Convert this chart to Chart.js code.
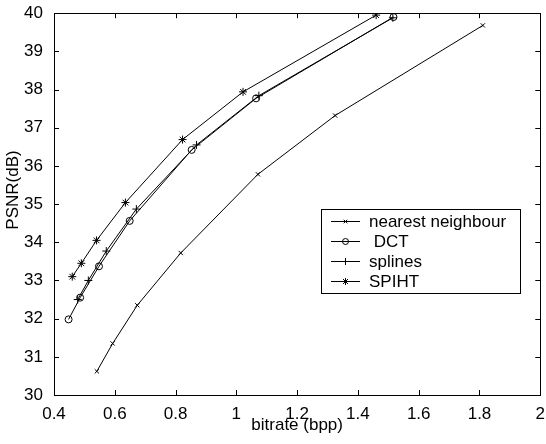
<!DOCTYPE html>
<html>
<head>
<meta charset="utf-8">
<script src="https://cdn.jsdelivr.net/npm/chart.js@4/dist/chart.umd.min.js"></script>
<style>
  html, body { margin: 0; padding: 0; background: #fff; }
  #wrap { width: 546px; height: 444px; }
</style>
</head>
<body>
<div id="wrap"><canvas id="psnrChart" width="546" height="444"></canvas></div>
<script>
// rate-distortion curves, bitrate in bpp vs PSNR in dB
const seriesNames = ["nearest neighbour", " DCT", "splines", "SPIHT"];

const nearestX = [0.541, 0.593, 0.674, 0.817, 1.071, 1.325, 1.811];
const nearestY = [30.62, 31.35, 32.35, 33.72, 35.78, 37.32, 39.68];

const dctX = [0.448, 0.486, 0.548, 0.649, 0.853, 1.065, 1.517];
const dctY = [31.98, 32.55, 33.37, 34.56, 36.42, 37.77, 39.90];

const splinesX = [0.478, 0.513, 0.572, 0.671, 0.869, 1.074, 1.515];
const splinesY = [32.50, 33.00, 33.77, 34.87, 36.55, 37.84, 39.88];

const spihtX = [0.460, 0.490, 0.540, 0.635, 0.823, 1.022, 1.460];
const spihtY = [33.10, 33.45, 34.05, 35.04, 36.69, 37.94, 39.95];

const xTickValues = [0.4, 0.6, 0.8, 1.0, 1.2, 1.4, 1.6, 1.8, 2.0];
const xTickLabels = ["0.4", "0.6", "0.8", "1", "1.2", "1.4", "1.6", "1.8", "2"];
const yTickValues = [30, 31, 32, 33, 34, 35, 36, 37, 38, 39, 40];
const yTickLabels = ["30", "31", "32", "33", "34", "35", "36", "37", "38", "39", "40"];
const yTitle = "PSNR(dB)";

const FONT = "'Liberation Sans', Arial, Helvetica, sans-serif";
const markerStyles = ["crossRot", "circle", "cross", "star"];
const markerSizes = [3, 3.5, 4, 4];

function toPoints(xs, ys) {
  return xs.map((x, i) => ({ x: x, y: ys[i] }));
}

function makeSeries(i, xs, ys) {
  return {
    label: seriesNames[i],
    data: toPoints(xs, ys),
    showLine: true,
    borderColor: "#000",
    backgroundColor: "rgba(0,0,0,0)",
    borderWidth: 1,
    pointStyle: markerStyles[i],
    pointRadius: markerSizes[i],
    pointBorderColor: "#000",
    pointBorderWidth: 1,
    pointBackgroundColor: "rgba(0,0,0,0)",
    tension: 0,
  };
}

// draw a single marker the same way the chart does
function marker(ctx, style, r, x, y) {
  ctx.beginPath();
  if (style === "circle") {
    ctx.arc(x, y, r, 0, Math.PI * 2);
  } else {
    if (style === "cross" || style === "star") {
      ctx.moveTo(x, y - r); ctx.lineTo(x, y + r);
      ctx.moveTo(x - r, y); ctx.lineTo(x + r, y);
    }
    if (style === "crossRot" || style === "star") {
      const d = r * Math.SQRT1_2;
      ctx.moveTo(x - d, y - d); ctx.lineTo(x + d, y + d);
      ctx.moveTo(x - d, y + d); ctx.lineTo(x + d, y - d);
    }
  }
  ctx.stroke();
}

// box frame with inward ticks on all four sides, plus the y label
const frameTicks = {
  id: "frameTicks",
  afterDraw(chart) {
    const { ctx, chartArea: a, scales } = chart;
    const len = 5;
    ctx.save();
    ctx.strokeStyle = "#000";
    ctx.lineWidth = 1;
    ctx.strokeRect(Math.round(a.left) + 0.5, Math.round(a.top) + 0.5,
      Math.round(a.right - a.left), Math.round(a.bottom - a.top));
    ctx.beginPath();
    scales.x.ticks.forEach(t => {
      const px = Math.round(scales.x.getPixelForValue(t.value)) + 0.5;
      ctx.moveTo(px, a.bottom); ctx.lineTo(px, a.bottom - len);
      ctx.moveTo(px, a.top); ctx.lineTo(px, a.top + len);
    });
    scales.y.ticks.forEach(t => {
      const py = Math.round(scales.y.getPixelForValue(t.value)) + 0.5;
      ctx.moveTo(a.left, py); ctx.lineTo(a.left + len, py);
      ctx.moveTo(a.right, py); ctx.lineTo(a.right - len, py);
    });
    ctx.stroke();

    ctx.translate(13, 190);
    ctx.rotate(-Math.PI / 2);
    ctx.font = "17px " + FONT;
    ctx.fillStyle = "#000";
    ctx.textAlign = "center";
    ctx.textBaseline = "middle";
    ctx.fillText(yTitle, 0, 0);
    ctx.restore();
  }
};

// boxed legend inside the plot, to the right
const boxLegend = {
  id: "boxLegend",
  afterDraw(chart) {
    const ctx = chart.ctx;
    const bx = 321, by = 209, bw = 199, bh = 84;
    ctx.save();
    ctx.fillStyle = "#fff";
    ctx.fillRect(bx, by, bw, bh);
    ctx.strokeStyle = "#000";
    ctx.lineWidth = 1;
    ctx.strokeRect(bx + 0.5, by + 0.5, bw, bh);
    ctx.font = "17px " + FONT;
    ctx.textBaseline = "middle";
    chart.data.datasets.forEach((ds, i) => {
      const y = by + 12.5 + i * 20;
      ctx.beginPath();
      ctx.moveTo(331, y); ctx.lineTo(360, y);
      ctx.stroke();
      marker(ctx, ds.pointStyle, ds.pointRadius - 0.5, 345.5, y);
      ctx.fillStyle = "#000";
      ctx.fillText(ds.label, 369, y + 0.5);
    });
    ctx.restore();
  }
};

new Chart(document.getElementById("psnrChart"), {
  type: "scatter",
  data: {
    datasets: [
      makeSeries(0, nearestX, nearestY),
      makeSeries(1, dctX, dctY),
      makeSeries(2, splinesX, splinesY),
      makeSeries(3, spihtX, spihtY),
    ],
  },
  options: {
    responsive: false,
    animation: false,
    devicePixelRatio: 1,
    layout: { padding: { top: 10, right: 3, left: 0, bottom: 0 } },
    plugins: {
      legend: { display: false },
      tooltip: { enabled: false },
    },
    scales: {
      x: {
        type: "linear",
        min: 0.4,
        max: 2,
        afterBuildTicks: s => { s.ticks = xTickValues.map(v => ({ value: v })); },
        afterFit: s => { s.height = 49; },
        grid: { display: false },
        border: { display: false },
        ticks: {
          autoSkip: false,
          maxRotation: 0,
          padding: 1,
          color: "#000",
          font: { family: FONT, size: 17 },
          callback: (v, i) => xTickLabels[i],
        },
        title: {
          display: true,
          text: "bitrate (bpp)",
          color: "#000",
          font: { family: FONT, size: 17 },
          padding: { top: 0, bottom: 8 },
        },
      },
      y: {
        type: "linear",
        min: 30,
        max: 40,
        afterBuildTicks: s => { s.ticks = yTickValues.map(v => ({ value: v })); },
        afterFit: s => { s.width = 54; },
        grid: { display: false },
        border: { display: false },
        ticks: {
          autoSkip: false,
          padding: 3,
          color: "#000",
          font: { family: FONT, size: 17 },
          callback: (v, i) => yTickLabels[i],
        },
      },
    },
  },
  plugins: [frameTicks, boxLegend],
});
</script>
</body>
</html>
